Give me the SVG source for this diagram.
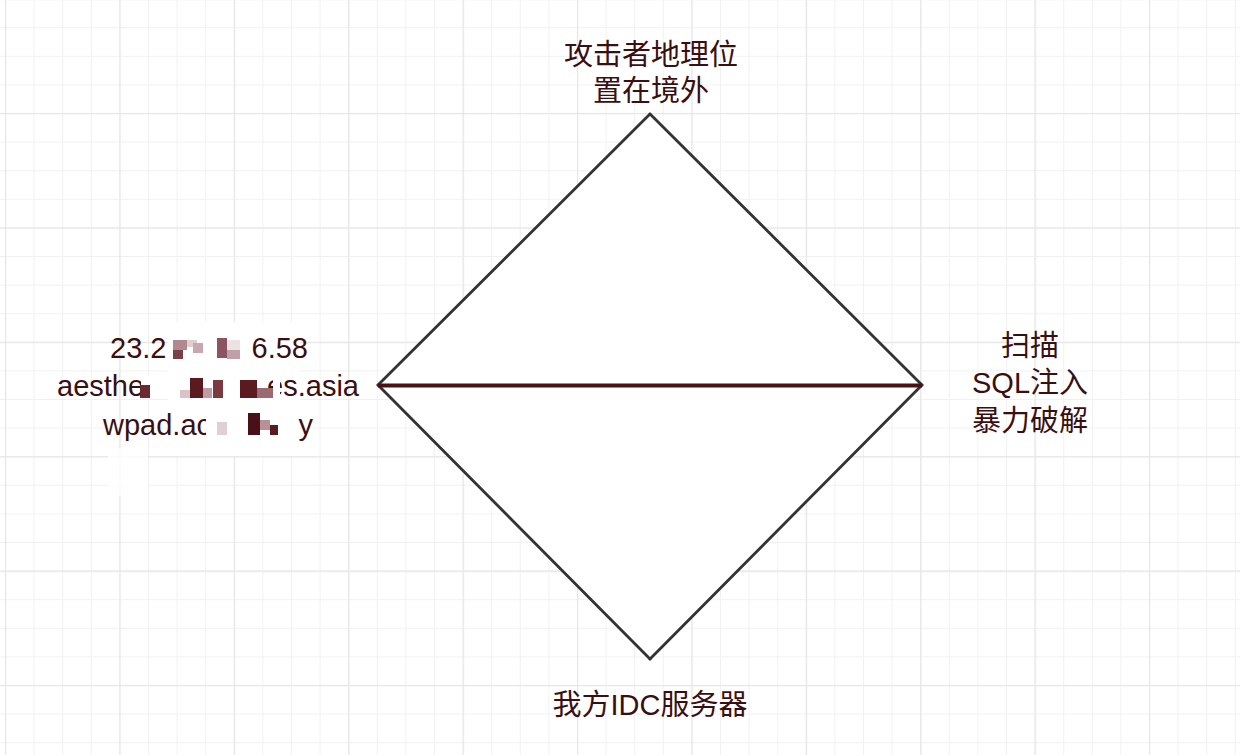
<svg xmlns="http://www.w3.org/2000/svg" width="1240" height="755" viewBox="0 0 1240 755">
  <style>
    .lbl { font-family: "Liberation Sans", "Noto Sans CJK SC", sans-serif; font-size: 29px; fill: #3a0f12; }
    .edge { stroke: #333333; stroke-width: 2.8; fill: none; stroke-linecap: round; }
    .main { stroke: #4a1014; stroke-width: 4; fill: none; }
  </style>
  <defs>
    <pattern id="minor" x="5" y="-1.4" width="28.6" height="28.6" patternUnits="userSpaceOnUse">
      <path d="M0 0 V28.6 M0 0 H28.6" stroke="#f1f1f1" stroke-width="2" fill="none"/>
    </pattern>
    <pattern id="major" x="5" y="-1.4" width="114.4" height="114.4" patternUnits="userSpaceOnUse">
      <path d="M0 0 V114.4 M0 0 H114.4" stroke="#e6e6e6" stroke-width="2.4" fill="none"/>
    </pattern>
  </defs>
  <rect width="1240" height="755" fill="#ffffff"/>
  <rect width="1240" height="755" fill="url(#minor)"/>
  <rect width="1240" height="755" fill="url(#major)"/>

  <!-- redaction white-out -->
  <g id="redaction-bg" fill="#ffffff">
    <rect x="168" y="322" width="132" height="134" opacity="0.92"/>
    <rect x="108" y="448" width="40" height="48" opacity="0.8"/>
  </g>

  <g id="diamond">
    <polygon points="650,114 922,385 650,659 378,385" fill="#ffffff" stroke="none"/>
  </g>

  <g id="connectors">
    <line class="edge" x1="650" y1="114" x2="922" y2="385"/>
    <line class="edge" x1="922" y1="385" x2="650" y2="659"/>
    <line class="edge" x1="650" y1="659" x2="378" y2="385"/>
    <line class="edge" x1="378" y1="385" x2="650" y2="114"/>
    <line class="main" x1="378" y1="385.5" x2="922" y2="385.5"/>
  </g>

  <g id="node-top">
    <text class="lbl" x="651" y="65" text-anchor="middle">攻击者地理位</text>
    <text class="lbl" x="651" y="101" text-anchor="middle">置在境外</text>
  </g>

  <g id="node-right">
    <text class="lbl" x="1030" y="356" text-anchor="middle">扫描</text>
    <text class="lbl" x="1030" y="393" text-anchor="middle">SQL注入</text>
    <text class="lbl" x="1030" y="431" text-anchor="middle">暴力破解</text>
  </g>

  <g id="node-bottom">
    <text class="lbl" x="650" y="715" text-anchor="middle">我方IDC服务器</text>
  </g>

  <g id="node-left">
    <text class="lbl" x="110" y="358">23.2</text>
    <text class="lbl" x="308" y="358" text-anchor="end">6.58</text>
    <text class="lbl" x="57" y="396">aesthe</text>
    <text class="lbl" x="359" y="396" text-anchor="end">es.asia</text>
    <text class="lbl" x="103" y="435">wpad.ac</text>
    <text class="lbl" x="313" y="435" text-anchor="end">y</text>
    <g id="mosaic">
      <rect x="170" y="338" width="16" height="21" fill="#ffffff"/>
      <rect x="173" y="340" width="14" height="10" fill="#b08890"/>
      <rect x="173" y="350" width="10" height="9" fill="#7a4048"/>
      <rect x="187" y="340" width="10" height="7" fill="#e0cfd2"/>
      <rect x="193" y="343" width="10" height="10" fill="#c8a8ae"/>
      <rect x="217" y="338" width="10" height="20" fill="#8a5560"/>
      <rect x="227" y="340" width="13" height="10" fill="#ece2e4"/>
      <rect x="227" y="350" width="13" height="9" fill="#c0a0a8"/>
      <rect x="141" y="376" width="10" height="22" fill="#ffffff"/>
      <rect x="140" y="385" width="10" height="13" fill="#6a2a30"/>
      <rect x="180" y="390" width="10" height="8" fill="#d8c4c8"/>
      <rect x="190" y="378" width="13" height="20" fill="#5a1a20"/>
      <rect x="203" y="388" width="9" height="10" fill="#c09ca2"/>
      <rect x="213" y="380" width="10" height="18" fill="#7a3a40"/>
      <rect x="240" y="380" width="17" height="18" fill="#5a1a20"/>
      <rect x="257" y="388" width="16" height="10" fill="#9a6a70"/>
      <rect x="273" y="378" width="7" height="20" fill="#ffffff"/>
      <rect x="206" y="412" width="12" height="24" fill="#ffffff"/>
      <rect x="217" y="422" width="10" height="13" fill="#e0d0d4"/>
      <rect x="248" y="413" width="12" height="22" fill="#4a1018"/>
      <rect x="260" y="420" width="10" height="10" fill="#b89098"/>
      <rect x="270" y="425" width="8" height="10" fill="#5a1a20"/>
    </g>
  </g>
</svg>
